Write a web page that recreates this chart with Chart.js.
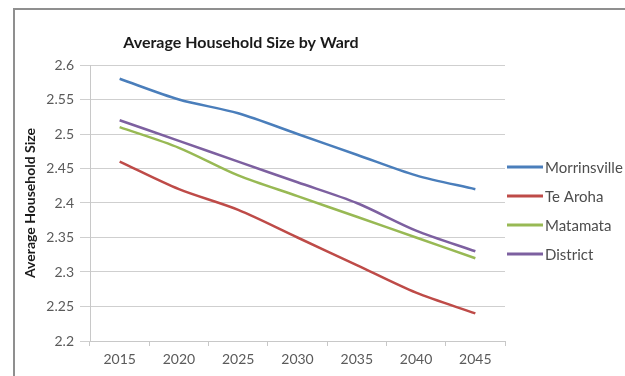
<!DOCTYPE html>
<html>
<head>
<meta charset="utf-8">
<script src="https://cdn.jsdelivr.net/npm/chart.js@4"></script>
<style>
  html, body { margin: 0; padding: 0; background: #fff; overflow: hidden; width: 625px; height: 376px; }
  #frame { position: absolute; left: 13px; top: 8px; width: 700px; height: 400px; border-left: 2px solid #8f8f8f; border-top: 2px solid #8f8f8f; }
  #chart { position: absolute; left: 15px; top: 10px; }
</style>
</head>
<body>
<div id="frame"></div>
<canvas id="chart" width="610" height="366"></canvas>
<script>
// household size data
const years = ['2015', '2020', '2025', '2030', '2035', '2040', '2045'];
const wards = ['Morrinsville', 'Te Aroha', 'Matamata', 'District'];
const morrinsville = [2.58, 2.55, 2.53, 2.50, 2.47, 2.44, 2.42];
const teAroha = [2.46, 2.42, 2.39, 2.35, 2.31, 2.27, 2.24];
const matamata = [2.51, 2.48, 2.44, 2.41, 2.38, 2.35, 2.32];
const district = [2.52, 2.49, 2.46, 2.43, 2.40, 2.36, 2.33];
const colours = ['#4a7ebb', '#be4b48', '#98b954', '#7d60a0'];

const chartTitle = 'Average Household Size by Ward';
const font = 'Lato, "Open Sans", sans-serif';

// title + legend drawn by hand so they sit where Excel put them
const excelBits = {
  id: 'excelBits',
  afterDraw(chart) {
    const ctx = chart.ctx;
    ctx.save();
    ctx.fillStyle = '#1a1a1a';
    ctx.font = 'bold 16px ' + font;
    ctx.textAlign = 'center';
    ctx.textBaseline = 'middle';
    ctx.fillText(chartTitle, 226, 33);

    ctx.font = '15px ' + font;
    ctx.textAlign = 'left';
    chart.data.datasets.forEach((ds, i) => {
      const y = 157 + i * 29;
      ctx.strokeStyle = ds.borderColor;
      ctx.lineWidth = 3;
      ctx.beginPath();
      ctx.moveTo(492, y);
      ctx.lineTo(528, y);
      ctx.stroke();
      ctx.fillStyle = '#4d4d4d';
      ctx.fillText(ds.label, 530, y + 1);
    });
    ctx.restore();
  }
};

const seriesData = [morrinsville, teAroha, matamata, district];

new Chart(document.getElementById('chart'), {
  type: 'line',
  data: {
    labels: years,
    datasets: wards.map((w, i) => ({
      label: w,
      data: seriesData[i],
      borderColor: colours[i],
      backgroundColor: colours[i],
      borderWidth: 2.5,
      tension: 0.3,
      pointRadius: 0,
      fill: false
    }))
  },
  options: {
    responsive: false,
    animation: false,
    layout: { padding: { top: 55, right: 120, left: 0, bottom: 0 } },
    plugins: {
      legend: { display: false },
      title: { display: false },
      tooltip: { enabled: false }
    },
    scales: {
      x: {
        offset: true,
        grid: { display: true, drawOnChartArea: false, offset: true, tickLength: 5, color: '#c8c8c8' },
        border: { display: true, color: '#c8c8c8' },
        ticks: { padding: 5, color: '#5a5a5a', font: { family: font, size: 14 } },
        afterFit: s => { s.height = 35; }
      },
      y: {
        min: 2.2,
        max: 2.6,
        grid: { color: '#cfcfcf', tickLength: 10 },
        border: { display: true, color: '#c8c8c8' },
        ticks: {
          stepSize: 0.05,
          padding: 6,
          color: '#5a5a5a',
          font: { family: font, size: 14 },
          callback: v => String(Number(v.toFixed(2)))
        },
        title: {
          display: true,
          text: 'Average Household Size',
          color: '#1a1a1a',
          font: { family: font, size: 14, weight: 'bold' },
          padding: { top: 7, bottom: 0 }
        },
        afterFit: s => { s.width = 75; }
      }
    }
  },
  plugins: [excelBits]
});
</script>
</body>
</html>
